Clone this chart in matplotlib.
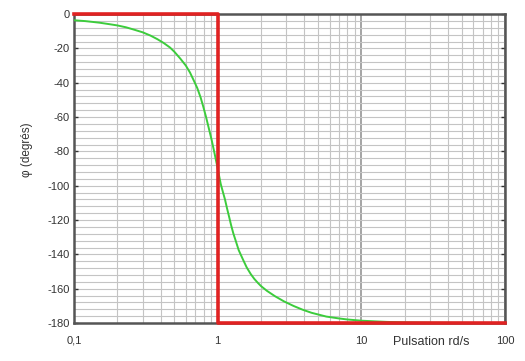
import matplotlib
matplotlib.use("Agg")
import matplotlib.pyplot as plt
from matplotlib.ticker import MultipleLocator, FixedLocator, NullFormatter

plt.rcParams["font.family"] = ["Liberation Sans", "DejaVu Sans"]

# phase response of the second-order system
puls = [0.1, 0.12, 0.15, 0.18, 0.2, 0.23, 0.26, 0.3, 0.34, 0.38, 0.42, 0.466,
        0.5, 0.55, 0.6, 0.641, 0.68, 0.72, 0.76, 0.794, 0.83, 0.87, 0.908, 0.95,
        1.0, 1.05, 1.09, 1.124, 1.16, 1.2, 1.24, 1.284, 1.34, 1.4, 1.5, 1.59,
        1.7, 1.8, 1.9, 2.0, 2.2, 2.5, 2.9, 3.37, 3.9, 4.5, 5.7, 7.0, 8.0, 10.0,
        12.5, 15.0, 20.0, 30.0, 50.0, 100.0]
phase = [-3.6, -4.1, -5.0, -6.0, -6.6, -7.7, -9.0, -10.6, -12.5, -14.6, -16.8, -19.5,
         -22.0, -26.0, -30.0, -34.0, -38.5, -43.0, -48.5, -54.0, -60.0, -67.0, -73.4, -81.0,
         -90.0, -99.0, -104.0, -108.0, -113.0, -118.0, -123.0, -127.7, -132.5, -137.5, -143.0, -147.5,
         -151.5, -154.3, -156.5, -158.4, -161.2, -164.3, -167.4, -170.0, -172.2, -174.0, -176.2, -177.3, -177.9, -178.6,
         -179.0, -179.3, -179.6, -179.8, -179.9, -180.0]

# asymptotic approximation
asym_x = [0.1, 1.0, 1.0, 100.0]
asym_y = [0.0, 0.0, -180.0, -180.0]

xticks = [0.1, 1, 10, 100]
xlabels = ["0,1", "1", "10", "100"]
yticks = list(range(0, -181, -20))

fig = plt.figure(figsize=(5.25, 3.61), dpi=100)
ax = fig.add_axes([0.141, 0.105, 0.821, 0.856])

ax.set_xscale("log")
ax.set_xlim(0.1, 100)
ax.set_ylim(-180, 0)

ax.yaxis.set_major_locator(FixedLocator(yticks))
ax.yaxis.set_minor_locator(MultipleLocator(4))
ax.set_yticklabels([str(t) for t in yticks], fontsize=8)
ax.set_xticks(xticks)
ax.set_xticklabels(xlabels, fontsize=8)
ax.xaxis.set_minor_formatter(NullFormatter())

ax.grid(True, which="minor", axis="both", color="#c4c4c4", lw=0.8)
ax.grid(True, which="major", axis="y", color="#c4c4c4", lw=0.8)
ax.grid(True, which="major", axis="x", color="#8c8c8c", lw=1.1)
ax.set_axisbelow(True)

ax.tick_params(axis="y", which="major", direction="in", length=3, width=1,
               left=True, right=True, pad=3, colors="#333333")
ax.tick_params(axis="y", which="minor", length=0)
ax.tick_params(axis="x", which="both", length=0, pad=9, colors="#333333")

for side in ["left", "right", "top", "bottom"]:
    ax.spines[side].set_color("#555555")
    ax.spines[side].set_linewidth(1.8)

ax.plot(puls, phase, color="#3ccc3c", lw=1.4, zorder=3)
ax.plot(asym_x, asym_y, color="#e02222", lw=2.6, clip_on=False, zorder=4)

ax.set_ylabel("φ (degrés)", fontsize=8.5, color="#333333")
ax.yaxis.set_label_coords(-0.095, 0.56)
fig.text(0.821, 0.045, "Pulsation rd/s", fontsize=9, ha="center", color="#333333")

fig.savefig("out.png", dpi=100)
